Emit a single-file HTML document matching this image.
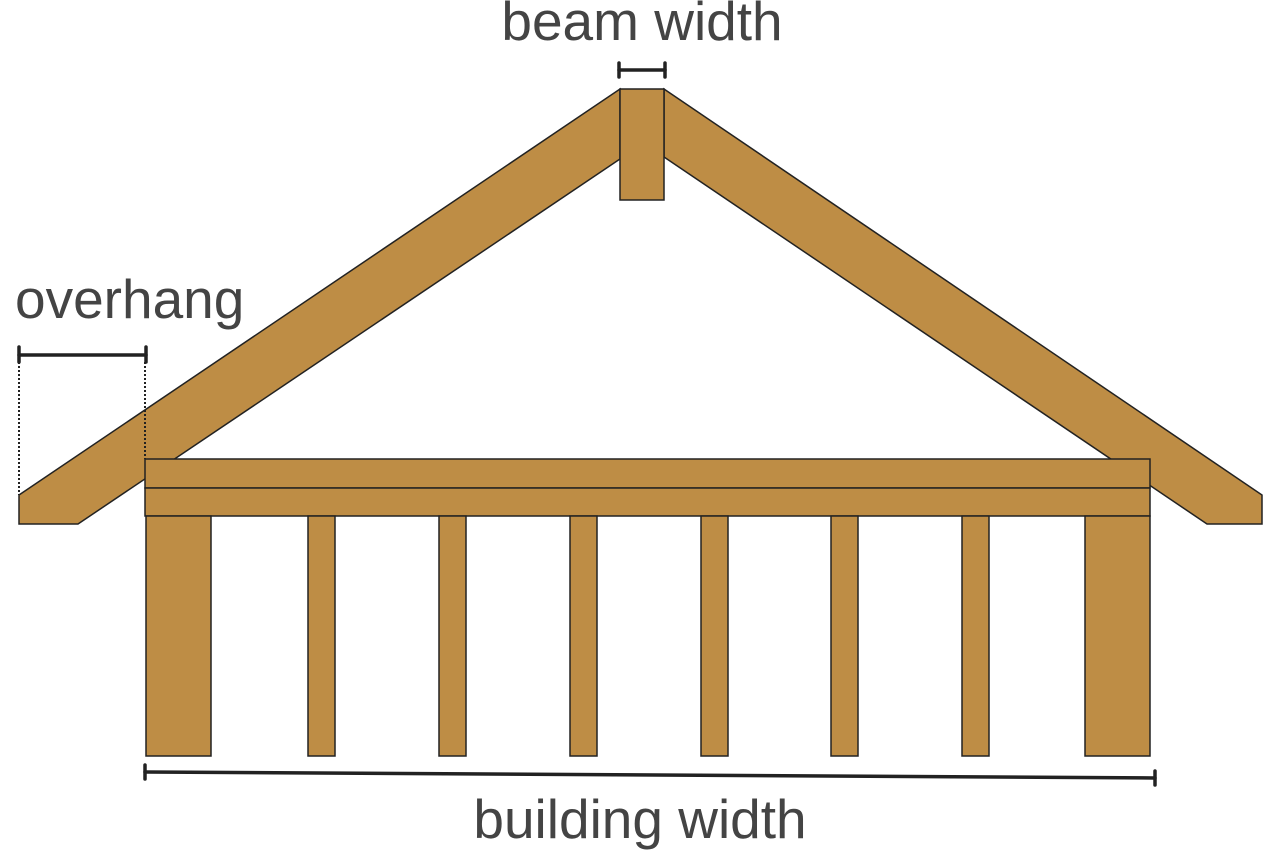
<!DOCTYPE html>
<html><head><style>
body{margin:0;background:#fff;width:1280px;height:854px;overflow:hidden}
text{font-family:"Liberation Sans",sans-serif;fill:#444;font-size:55px}
</style></head><body>
<svg width="1280" height="854" viewBox="0 0 1280 854">
<g fill="#be8d45" stroke="#222" stroke-width="1.5" stroke-linejoin="miter">
<polygon points="19,495 620,89 620,159 78,524 19,524"/>
<polygon points="664,89 1262,495 1262,524 1207,524 664,157"/>
<rect x="620" y="89" width="44" height="111"/>
<rect x="145" y="459" width="1005" height="29"/>
<rect x="145" y="488" width="1005" height="28"/>
<rect x="146" y="516" width="65" height="240"/>
<rect x="1085" y="516" width="65" height="240"/>
<rect x="308" y="516" width="27" height="240"/>
<rect x="439" y="516" width="27" height="240"/>
<rect x="570" y="516" width="27" height="240"/>
<rect x="701" y="516" width="27" height="240"/>
<rect x="831" y="516" width="27" height="240"/>
<rect x="962" y="516" width="27" height="240"/>
</g>
<g stroke="#222" stroke-width="3.5" stroke-linecap="round">
<line x1="19" y1="355" x2="146" y2="355"/>
<line x1="19" y1="347" x2="19" y2="362"/>
<line x1="146" y1="347" x2="146" y2="362"/>
<line x1="619" y1="70" x2="665" y2="70"/>
<line x1="619" y1="63" x2="619" y2="77"/>
<line x1="665" y1="63" x2="665" y2="77"/>
<line x1="145" y1="772" x2="1155" y2="778"/>
<line x1="145" y1="765" x2="145" y2="779"/>
<line x1="1155" y1="771" x2="1155" y2="785"/>
</g>
<g stroke="#222" stroke-width="2" stroke-dasharray="2,2">
<line x1="19" y1="362" x2="19" y2="495"/>
<line x1="145" y1="362" x2="145" y2="459"/>
</g>
<text x="642" y="40" text-anchor="middle">beam width</text>
<text x="15" y="318">overhang</text>
<text x="640" y="838" text-anchor="middle">building width</text>
</svg>
</body></html>
